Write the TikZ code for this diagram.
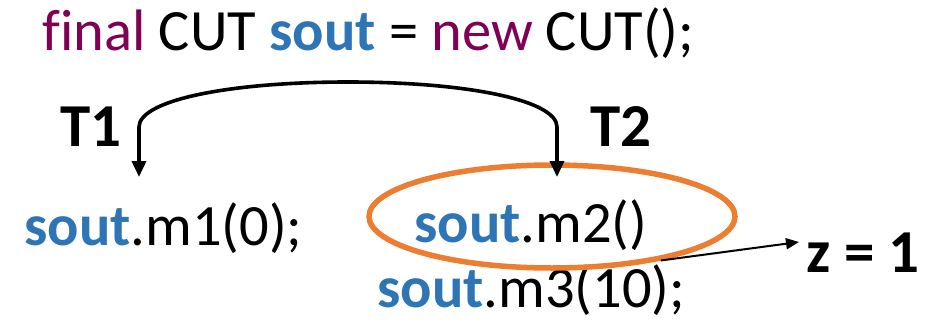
\documentclass[tikz,border=0pt]{standalone}
\usepackage{fontspec}
\setmainfont{Carlito}[Ligatures=NoCommon]
\usetikzlibrary{arrows.meta,shapes.geometric}
\definecolor{kw}{HTML}{7F0055}
\definecolor{obj}{HTML}{2E75B6}
\definecolor{ring}{HTML}{ED7D31}
\newcommand{\so}{\textbf{\textcolor{obj}{sout}}}
\tikzset{
  txt/.style={anchor=base west, inner sep=0pt, font=\fontsize{58.5}{60}\selectfont},
  btxt/.style={anchor=base west, inner sep=0pt, font=\fontsize{61}{63}\selectfont\bfseries},
  flow/.style={line width=3.6pt, {Triangle[length=16pt,width=14pt]}-{Triangle[length=16pt,width=14pt]}},
  res/.style={line width=2pt, -{Triangle[length=13pt,width=11pt]}},
  hl/.style={draw=ring, line width=5.5pt, ellipse, minimum width=366pt, minimum height=103pt, inner sep=0pt}
}
\begin{document}
\begin{tikzpicture}[x=1pt,y=-1pt]
\useasboundingbox (0,0) rectangle (946,327);
\node[txt] (decl) at (42,50) {\textcolor{kw}{final} CUT \so{} = \textcolor{kw}{new} CUT();};
\node[btxt] (t1) at (60,146) {T1};
\node[btxt] (t2) at (590,146) {T2};
\node[txt] (m1) at (24,245) {\so.m1(0);};
\node[txt] (m2) at (414,242) {\so.m2()};
\node[txt] (m3) at (377,307) {\so.m3(10);};
\node[btxt] (z) at (806,272) {z = 1};
\node[hl] (ell) at (552,216.5) {};
\coordinate (a1) at (139,177);
\coordinate (a2) at (557,177);
\coordinate (zt) at (799,242);
\draw[flow] (a1) -- (139,127) .. controls (139,100) and (230,82) .. (348,82)
  .. controls (466,82) and (557,100) .. (557,127) -- (a2);
\draw[res] (ell.-22) -- (zt);
\end{tikzpicture}
\end{document}
